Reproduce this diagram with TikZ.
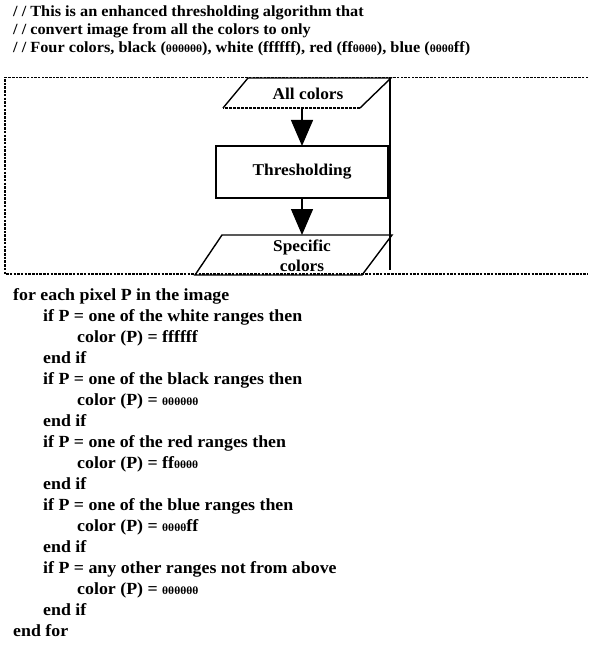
\documentclass[tikz,border=0pt]{standalone}
\usepackage{fontspec}
\setmainfont{Liberation Serif}[FakeStretch=1.05]
\usetikzlibrary{arrows.meta}

% hex digits zero, printed small
\newcommand{\hx}[1]{{\fontsize{11}{12}\selectfont #1}}

\tikzset{
    cmt/.style={anchor=base west, inner sep=0pt, font=\fontsize{15.5}{17}\selectfont\bfseries},
    code/.style={anchor=base west, inner sep=0pt, font=\fontsize{17}{19}\selectfont\bfseries},
    flowtxt/.style={inner sep=0pt, align=center, font=\fontsize{16.5}{20}\selectfont\bfseries},
    flowline/.style={line width=1.4pt},
    flowarrow/.style={line width=1.4pt, -{Triangle[width=22pt,length=26pt]}},
}

\begin{document}
\begin{tikzpicture}[x=1pt, y=-1pt]
    \useasboundingbox (0,0) rectangle (589,652);

    % Comment lines
    \node[cmt] (C1) at (13,17) {/ / This is an enhanced thresholding algorithm that};
    \node[cmt] (C2) at (13,35) {/ / convert image from all the colors to only};
    \node[cmt] (C3) at (13,53) {/ / Four colors, black (\hx{θθθθθθ}), white (ffffff), red (ff\hx{θθθθ}), blue (\hx{θθθθ}ff)};

    % Dotted frame round the flowchart
    \draw[line width=1.8pt, dash pattern=on 2.5pt off 1.2pt] (588,77.5) -- (5,77.5) -- (5,274) -- (588,274);

    % Flowchart shapes
    \coordinate (P1a) at (248,78);  \coordinate (P1b) at (391,78);
    \coordinate (P1c) at (360,108); \coordinate (P1d) at (223,108);
    \coordinate (P2a) at (222,235); \coordinate (P2b) at (392,235);
    \coordinate (P2c) at (362,275); \coordinate (P2d) at (195,275);
    \begin{scope}[flowline]
        \draw (P1d) -- (P1a) -- (P1b) -- (P1c);
        \draw[dash pattern=on 3pt off 1pt] (P1c) -- (P1d);
        \draw (P2d) -- (P2a) -- (P2b) -- (P2c) -- cycle;
        \draw (216,146) rectangle (390,198);
        \draw[line width=3.5pt] (389,146) -- (389,198);
        \draw (390,78) -- (390,270);
    \end{scope}

    % Flowchart texts
    \node[flowtxt] (All)  at (308,94)  {All colors};
    \node[flowtxt] (Thr)  at (302,172) {Thresholding};
    \node[flowtxt] (Spec) at (302,256) {Specific\\colors};

    % Arrows between the stages
    \coordinate (A1) at (302,108);
    \coordinate (A2) at (302,146);
    \coordinate (A3) at (302,198);
    \coordinate (A4) at (302,235);
    \draw[flowarrow] (A1) -- (A2);
    \draw[flowarrow] (A3) -- (A4);

    % Pseudocode
    \node[code] (L1)  at (13,300) {for each pixel P in the image};
    \node[code] (L2)  at (43,321) {if P = one of the white ranges then};
    \node[code] (L3)  at (77,342) {color (P) = ffffff};
    \node[code] (L4)  at (43,363) {end if};
    \node[code] (L5)  at (43,384) {if P = one of the black ranges then};
    \node[code] (L6)  at (77,405) {color (P) = \hx{θθθθθθ}};
    \node[code] (L7)  at (43,426) {end if};
    \node[code] (L8)  at (43,447) {if P = one of the red ranges then};
    \node[code] (L9)  at (77,468) {color (P) = ff\hx{θθθθ}};
    \node[code] (L10) at (43,489) {end if};
    \node[code] (L11) at (43,510) {if P = one of the blue ranges then};
    \node[code] (L12) at (77,531) {color (P) = \hx{θθθθ}ff};
    \node[code] (L13) at (43,552) {end if};
    \node[code] (L14) at (43,573) {if P = any other ranges not from above};
    \node[code] (L15) at (77,594) {color (P) = \hx{θθθθθθ}};
    \node[code] (L16) at (43,615) {end if};
    \node[code] (L17) at (13,636) {end for};
\end{tikzpicture}
\end{document}
